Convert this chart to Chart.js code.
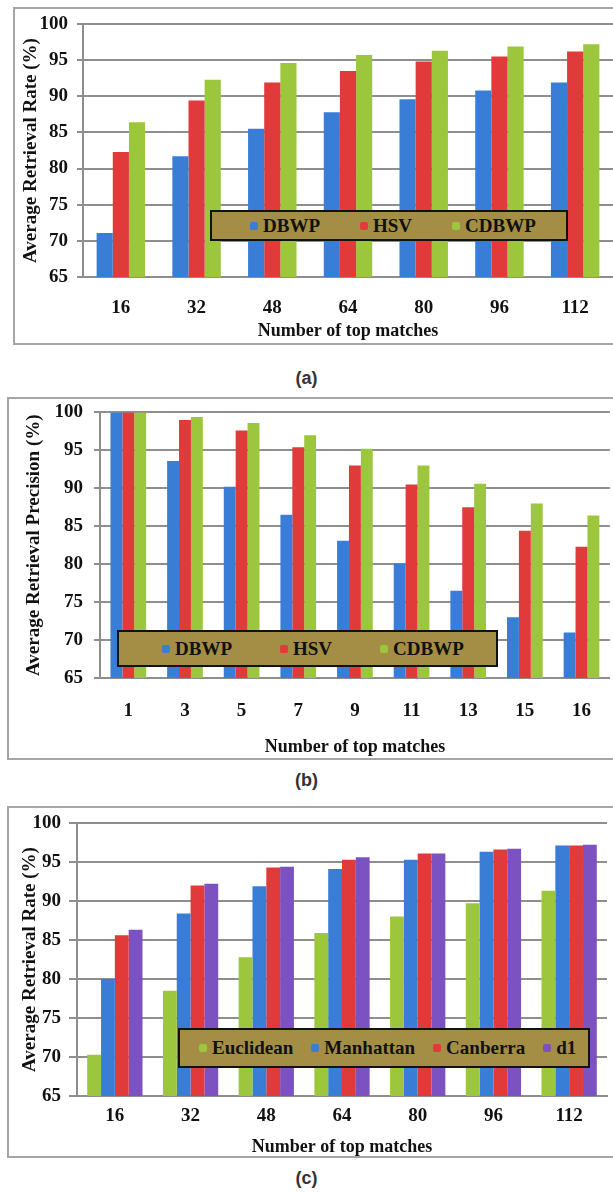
<!DOCTYPE html>
<html>
<head>
<meta charset="utf-8">
<script src="https://cdn.jsdelivr.net/npm/chart.js@4.4.1/dist/chart.umd.min.js"></script>
<style>
  html, body { margin: 0; padding: 0; background: #fff; }
  body { position: relative; width: 613px; height: 1198px; overflow: hidden; }
  .frame { position: absolute; box-sizing: border-box; border: 2px solid #a5a5a5; border-right: none; }
  canvas { position: absolute; left: 0; }
  .legend {
    position: absolute; box-sizing: border-box; display: flex; align-items: center;
    background: #a48e46; border: 2px solid #111;
    font: bold 19px "Liberation Serif", "Times New Roman", serif; color: #111; white-space: nowrap;
  }
  .legend .item { display: flex; align-items: center; }
  .legend .sw { width: 8px; height: 8px; margin-right: 5px; border-radius: 2px; }
  .caption {
    position: absolute; left: 0; width: 613px; text-align: center; line-height: 20px;
    font: bold 18px "Liberation Sans", Arial, sans-serif; color: #333;
  }
</style>
</head>
<body>
<script>
// 検索率・精度の比較 (a)(b)(c)

const matchesA = ['16', '32', '48', '64', '80', '96', '112'];
const dbwpRate  = [71.1, 81.7, 85.5, 87.8, 89.6, 90.8, 91.9];
const hsvRate   = [82.3, 89.4, 91.9, 93.5, 94.8, 95.5, 96.2];
const cdbwpRate = [86.4, 92.3, 94.6, 95.7, 96.3, 96.9, 97.2];

const matchesB = ['1', '3', '5', '7', '9', '11', '13', '15', '16'];
const dbwpPrec  = [100, 93.6, 90.2, 86.5, 83.1, 80.1, 76.5, 73.0, 71.0];
const hsvPrec   = [100, 99.0, 97.6, 95.4, 93.0, 90.5, 87.5, 84.4, 82.3];
const cdbwpPrec = [100, 99.4, 98.6, 97.0, 95.2, 93.0, 90.6, 88.0, 86.4];

const matchesC = ['16', '32', '48', '64', '80', '96', '112'];
const euclidean = [70.3, 78.5, 82.8, 85.9, 88.0, 89.7, 91.3];
const manhattan = [80.0, 88.4, 91.9, 94.1, 95.3, 96.3, 97.1];
const canberra  = [85.6, 92.0, 94.3, 95.3, 96.1, 96.6, 97.1];
const d1        = [86.3, 92.2, 94.4, 95.6, 96.1, 96.7, 97.2];

const percentTicks = [65, 70, 75, 80, 85, 90, 95, 100];

const BLUE = '#3a7dd6', RED = '#e03a3a', GREEN = '#9cc63c', PURPLE = '#7b52bf';
const GRID = '#8e8e8e', INK = '#111';
const SERIF = '"Liberation Serif", "Times New Roman", serif';

const panels = [
  {
    labels: matchesA, yTitle: 'Average Retrieval Rate (%)',
    series: [
      { name: 'DBWP', data: dbwpRate, color: BLUE },
      { name: 'HSV', data: hsvRate, color: RED },
      { name: 'CDBWP', data: cdbwpRate, color: GREEN },
    ],
    top: 0, h: 350, padTop: 24, padRight: 0, yAxisW: 83, xAxisH: 73,
    tickLen: 6, yTickPad: 9, yTitlePad: 20, xTickPad: 20, xTitlePad: 8, cat: 0.64,
    frame: { left: 13, top: 7, h: 338 },
    legend: { left: 210, top: 210, w: 358, h: 31, padLeft: 38, gap: 40 },
    caption: { text: '(a)', top: 368 },
  },
  {
    labels: matchesB, yTitle: 'Average Retrieval Precision (%)',
    series: [
      { name: 'DBWP', data: dbwpPrec, color: BLUE },
      { name: 'HSV', data: hsvPrec, color: RED },
      { name: 'CDBWP', data: cdbwpPrec, color: GREEN },
    ],
    top: 390, h: 375, padTop: 22, padRight: 0, yAxisW: 100, xAxisH: 87,
    tickLen: 6, yTickPad: 11, yTitlePad: 23, xTickPad: 22, xTitlePad: 7, cat: 0.63,
    frame: { left: 7, top: 397, h: 363 },
    legend: { left: 117, top: 630, w: 381, h: 37, padLeft: 43, gap: 48 },
    caption: { text: '(b)', top: 770 },
  },
  {
    labels: matchesC, yTitle: 'Average Retrieval Rate (%)',
    series: [
      { name: 'Euclidean', data: euclidean, color: GREEN },
      { name: 'Manhattan', data: manhattan, color: BLUE },
      { name: 'Canberra', data: canberra, color: RED },
      { name: 'd1', data: d1, color: PURPLE },
    ],
    top: 800, h: 365, padTop: 23, padRight: 6, yAxisW: 77, xAxisH: 69,
    tickLen: 8, yTickPad: 8, yTitlePad: 19, xTickPad: 9, xTitlePad: 7, cat: 0.73,
    frame: { left: 7, top: 806, h: 352 },
    legend: { left: 178, top: 1028, w: 412, h: 40, padLeft: 19, gap: 18 },
    caption: { text: '(c)', top: 1168 },
  },
];

function addDiv(cls, css) {
  const d = document.createElement('div');
  d.className = cls;
  Object.assign(d.style, css);
  document.body.appendChild(d);
  return d;
}

function drawPanel(p) {
  addDiv('frame', { left: p.frame.left + 'px', top: p.frame.top + 'px',
                    width: (613 - p.frame.left) + 'px', height: p.frame.h + 'px' });

  const cv = document.createElement('canvas');
  cv.width = 613;
  cv.height = p.h;
  cv.style.top = p.top + 'px';
  document.body.appendChild(cv);

  const tickFont = { family: SERIF, size: 19, weight: 'bold' };

  new Chart(cv, {
    type: 'bar',
    data: {
      labels: p.labels,
      datasets: p.series.map(s => ({
        label: s.name, data: s.data, backgroundColor: s.color, borderWidth: 0,
        categoryPercentage: p.cat, barPercentage: 1,
      })),
    },
    options: {
      responsive: false,
      animation: false,
      devicePixelRatio: 1,
      layout: { padding: { top: p.padTop, right: p.padRight, bottom: 0, left: 0 } },
      plugins: { legend: { display: false }, tooltip: { enabled: false } },
      scales: {
        x: {
          grid: { display: false, drawTicks: false },
          border: { display: true, color: GRID, width: 2 },
          ticks: { color: INK, font: tickFont, padding: p.xTickPad, maxRotation: 0 },
          title: { display: true, text: 'Number of top matches', color: INK,
                   font: { family: SERIF, size: 18, weight: 'bold' }, padding: { top: 0, bottom: p.xTitlePad } },
          afterFit: s => { s.height = p.xAxisH; },
        },
        y: {
          min: 65, max: 100,
          afterBuildTicks: s => { s.ticks = percentTicks.map(v => ({ value: v })); },
          ticks: { color: INK, font: tickFont, padding: p.yTickPad },
          grid: { color: GRID, lineWidth: 2, tickLength: p.tickLen },
          border: { color: GRID, width: 2 },
          title: { display: true, text: p.yTitle, color: INK,
                   font: { family: SERIF, size: 19, weight: 'bold' }, padding: { top: p.yTitlePad, bottom: 0 } },
          afterFit: s => { s.width = p.yAxisW; },
        },
      },
    },
  });

  // 凡例（オリーブ色の箱）
  const lg = addDiv('legend', { left: p.legend.left + 'px', top: p.legend.top + 'px',
                                width: p.legend.w + 'px', height: p.legend.h + 'px',
                                paddingLeft: p.legend.padLeft + 'px', gap: p.legend.gap + 'px' });
  lg.innerHTML = p.series.map(s =>
    `<span class="item"><span class="sw" style="background:${s.color}"></span>${s.name}</span>`).join('');

  const cap = addDiv('caption', { top: p.caption.top + 'px' });
  cap.textContent = p.caption.text;
}

panels.forEach(drawPanel);
</script>
</body>
</html>
